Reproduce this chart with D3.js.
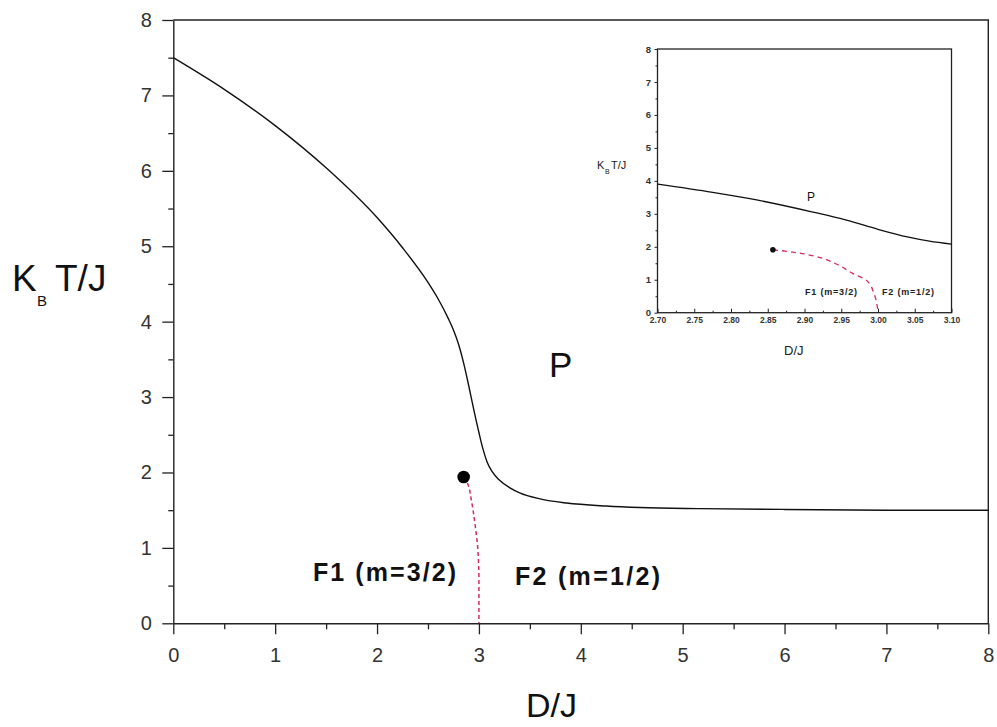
<!DOCTYPE html>
<html>
<head>
<meta charset="utf-8">
<script src="https://cdn.jsdelivr.net/npm/d3@7/dist/d3.min.js"></script>
<style>
  html, body { margin: 0; padding: 0; background: #fff; }
  svg { display: block; }
  text { font-family: "Liberation Sans", Arial, sans-serif; }
</style>
</head>
<body>
<svg id="chart" width="997" height="727"></svg>
<script>
// ---------- data ----------
// main phase boundary (P / F) : D/J vs kT/J
const mainD = [0, 0.5, 1.0, 1.5, 2.0, 2.25, 2.5, 2.6, 2.7, 2.75, 2.8, 2.85, 2.9, 2.95, 3.0, 3.04, 3.08, 3.13, 3.2, 3.3, 3.4, 3.6, 3.86, 4.25, 4.58, 5.17, 6.0, 7.0, 8.0];
const mainT = [7.5, 7.08, 6.60, 6.04, 5.38, 4.98, 4.52, 4.30, 4.04, 3.89, 3.70, 3.45, 3.15, 2.83, 2.53, 2.31, 2.14, 2.01, 1.90, 1.80, 1.73, 1.65, 1.595, 1.555, 1.535, 1.52, 1.51, 1.50, 1.50];
// F1 / F2 boundary (dashed)
const boundD = [2.85, 2.88, 2.93, 2.96, 2.99, 3.0, 3.0];
const boundT = [1.94, 1.88, 1.60, 1.33, 0.97, 0.57, 0.0];
// critical end point
const critD = [2.85];
const critT = [1.94];
// inset
const insetD = [2.70, 2.775, 2.835, 2.91, 2.957, 3.0, 3.04, 3.07, 3.10];
const insetT = [3.90, 3.65, 3.42, 3.06, 2.81, 2.53, 2.30, 2.17, 2.08];
const insetBoundD = [2.857, 2.89, 2.915, 2.944, 2.965, 2.985, 2.995, 3.0];
const insetBoundT = [1.91, 1.82, 1.71, 1.47, 1.20, 0.97, 0.55, 0.0];
// ticks
const xTicks = [0, 1, 2, 3, 4, 5, 6, 7, 8];
const yTicks = [0, 1, 2, 3, 4, 5, 6, 7, 8];
const insetXTicks = [2.70, 2.75, 2.80, 2.85, 2.90, 2.95, 3.00, 3.05, 3.10];
const insetYTicks = [0, 1, 2, 3, 4, 5, 6, 7, 8];

// ---------- main chart ----------
const svg = d3.select("#chart");
const x = d3.scaleLinear().domain([0, 8]).range([173.3, 988.3]);
const y = d3.scaleLinear().domain([0, 8]).range([623.3, 20]);

const half = d => d3.range(d[0] + 0.5, d[d.length - 1], 1);

// minor ticks
svg.append("g").attr("transform", `translate(0,${y(0)})`)
  .call(d3.axisBottom(x).tickValues(half(xTicks)).tickSize(6).tickFormat(""))
  .call(g => g.select(".domain").remove())
  .call(g => g.selectAll("line").attr("stroke", "#222").attr("stroke-width", 1.3));
svg.append("g").attr("transform", `translate(${x(0)},0)`)
  .call(d3.axisLeft(y).tickValues(half(yTicks)).tickSize(5).tickFormat(""))
  .call(g => g.select(".domain").remove())
  .call(g => g.selectAll("line").attr("stroke", "#222").attr("stroke-width", 1.3));

// major axes
svg.append("g").attr("transform", `translate(0,${y(0)})`)
  .call(d3.axisBottom(x).tickValues(xTicks).tickSize(11).tickSizeOuter(0).tickPadding(13.5).tickFormat(d3.format("d")))
  .call(g => g.select(".domain").attr("stroke", "#222").attr("stroke-width", 1.4))
  .call(g => g.selectAll("line").attr("stroke", "#222").attr("stroke-width", 1.3))
  .call(g => g.selectAll("text").attr("font-size", 20).attr("fill", "#333").attr("font-family", "Liberation Sans, Arial, sans-serif"));
svg.append("g").attr("transform", `translate(${x(0)},0)`)
  .call(d3.axisLeft(y).tickValues(yTicks).tickSize(11).tickSizeOuter(0).tickPadding(10.5).tickFormat(d3.format("d")))
  .call(g => g.select(".domain").attr("stroke", "#222").attr("stroke-width", 1.4))
  .call(g => g.selectAll("line").attr("stroke", "#222").attr("stroke-width", 1.3))
  .call(g => g.selectAll("text").attr("font-size", 20).attr("fill", "#333").attr("font-family", "Liberation Sans, Arial, sans-serif"));

// frame top & right
svg.append("path")
  .attr("d", `M${x(0)},${y(8)}H${x(8)}V${y(0)}`)
  .attr("fill", "none").attr("stroke", "#222").attr("stroke-width", 1.4);

// curves
const mainLine = d3.line().x(d => x(d[0])).y(d => y(d[1])).curve(d3.curveMonotoneX);
svg.append("path")
  .datum(mainD.map((d, i) => [d, mainT[i]]))
  .attr("d", mainLine)
  .attr("fill", "none").attr("stroke", "#111").attr("stroke-width", 1.4);

const boundLine = d3.line().x(d => x(d[0])).y(d => y(d[1])).curve(d3.curveMonotoneY);
svg.append("path")
  .datum(boundD.map((d, i) => [d, boundT[i]]))
  .attr("d", boundLine)
  .attr("fill", "none").attr("stroke", "#d22a66").attr("stroke-width", 1.5)
  .attr("stroke-dasharray", "4,3");

svg.selectAll("circle.crit").data(critD.map((d, i) => [d, critT[i]])).enter()
  .append("circle").attr("class", "crit")
  .attr("cx", d => x(d[0])).attr("cy", d => y(d[1])).attr("r", 6.3).attr("fill", "#000");

// labels
const yl = svg.append("text").attr("y", 291).attr("font-size", 37).attr("fill", "#111");
yl.append("tspan").attr("x", 12).text("K");
yl.append("tspan").attr("x", 37).attr("y", 306).attr("font-size", 15).text("B");
yl.append("tspan").attr("x", 55).attr("y", 291).text("T/J");

svg.append("text").attr("x", 526).attr("y", 717).attr("font-size", 34).attr("fill", "#111").text("D/J");
svg.append("text").attr("x", 549).attr("y", 377).attr("font-size", 35).attr("fill", "#111").text("P");
svg.append("text").attr("x", 313).attr("y", 581).attr("font-size", 25).attr("font-weight", "bold").attr("fill", "#111")
  .attr("textLength", 143).attr("lengthAdjust", "spacing").text("F1 (m=3/2)");
svg.append("text").attr("x", 515).attr("y", 585).attr("font-size", 25).attr("font-weight", "bold").attr("fill", "#111")
  .attr("textLength", 145).attr("lengthAdjust", "spacing").text("F2 (m=1/2)");

// ---------- inset ----------
const ix = d3.scaleLinear().domain([2.70, 3.10]).range([657.5, 951.5]);
const iy = d3.scaleLinear().domain([0, 8]).range([312.7, 49]);

svg.append("rect").attr("x", ix(2.70)).attr("y", iy(8))
  .attr("width", ix(3.10) - ix(2.70)).attr("height", iy(0) - iy(8))
  .attr("fill", "none").attr("stroke", "#222").attr("stroke-width", 1.3);

// inset minor ticks
svg.append("g").attr("transform", `translate(0,${iy(0)})`)
  .call(d3.axisTop(ix).tickValues(d3.range(8).map(i => 2.725 + i * 0.05)).tickSize(2).tickFormat(""))
  .call(g => g.select(".domain").remove())
  .call(g => g.selectAll("line").attr("stroke", "#222"));
svg.append("g").attr("transform", `translate(${ix(2.70)},0)`)
  .call(d3.axisLeft(iy).tickValues(half(insetYTicks)).tickSize(2).tickFormat(""))
  .call(g => g.select(".domain").remove())
  .call(g => g.selectAll("line").attr("stroke", "#222"));

// inset major ticks
svg.append("g").attr("transform", `translate(0,${iy(0)})`)
  .call(d3.axisTop(ix).tickValues(insetXTicks).tickSize(4).tickSizeOuter(0).tickFormat(""))
  .call(g => g.select(".domain").remove())
  .call(g => g.selectAll("line").attr("stroke", "#222"));
svg.append("g").attr("transform", `translate(0,${iy(0)})`)
  .call(d3.axisBottom(ix).tickValues(insetXTicks).tickSize(0).tickPadding(4.5).tickFormat(d3.format(".2f")))
  .call(g => g.select(".domain").remove())
  .call(g => g.selectAll("text").attr("font-size", 8.5).attr("font-weight", "bold").attr("fill", "#333").attr("font-family", "Liberation Sans, Arial, sans-serif"));
svg.append("g").attr("transform", `translate(${ix(2.70)},0)`)
  .call(d3.axisLeft(iy).tickValues(insetYTicks).tickSize(3).tickSizeOuter(0).tickPadding(3.5).tickFormat(d3.format("d")))
  .call(g => g.select(".domain").remove())
  .call(g => g.selectAll("line").attr("stroke", "#222"))
  .call(g => g.selectAll("text").attr("font-size", 9.5).attr("font-weight", "bold").attr("fill", "#333").attr("font-family", "Liberation Sans, Arial, sans-serif"));

const insetLine = d3.line().x(d => ix(d[0])).y(d => iy(d[1])).curve(d3.curveMonotoneX);
svg.append("path")
  .datum(insetD.map((d, i) => [d, insetT[i]]))
  .attr("d", insetLine)
  .attr("fill", "none").attr("stroke", "#111").attr("stroke-width", 1.3);

const insetBLine = d3.line().x(d => ix(d[0])).y(d => iy(d[1])).curve(d3.curveMonotoneY);
svg.append("path")
  .datum(insetBoundD.map((d, i) => [d, insetBoundT[i]]))
  .attr("d", insetBLine)
  .attr("fill", "none").attr("stroke", "#d22a66").attr("stroke-width", 1.3)
  .attr("stroke-dasharray", "5,4");

svg.append("circle").attr("cx", ix(insetBoundD[0])).attr("cy", iy(insetBoundT[0])).attr("r", 2.8).attr("fill", "#111");

// inset labels
const iyl = svg.append("text").attr("y", 169).attr("font-size", 11).attr("fill", "#222");
iyl.append("tspan").attr("x", 597).text("K");
iyl.append("tspan").attr("x", 605).attr("y", 174).attr("font-size", 7).text("B");
iyl.append("tspan").attr("x", 611).attr("y", 169).text("T/J");
svg.append("text").attr("x", 784).attr("y", 355).attr("font-size", 13).attr("fill", "#222").text("D/J");
svg.append("text").attr("x", 807).attr("y", 201).attr("font-size", 12).attr("fill", "#111").text("P");
svg.append("text").attr("x", 805).attr("y", 295).attr("font-size", 9).attr("font-weight", "bold").attr("fill", "#222")
  .attr("textLength", 52).attr("lengthAdjust", "spacing").text("F1 (m=3/2)");
svg.append("text").attr("x", 882).attr("y", 295).attr("font-size", 9).attr("font-weight", "bold").attr("fill", "#222")
  .attr("textLength", 52).attr("lengthAdjust", "spacing").text("F2 (m=1/2)");
</script>
</body>
</html>
